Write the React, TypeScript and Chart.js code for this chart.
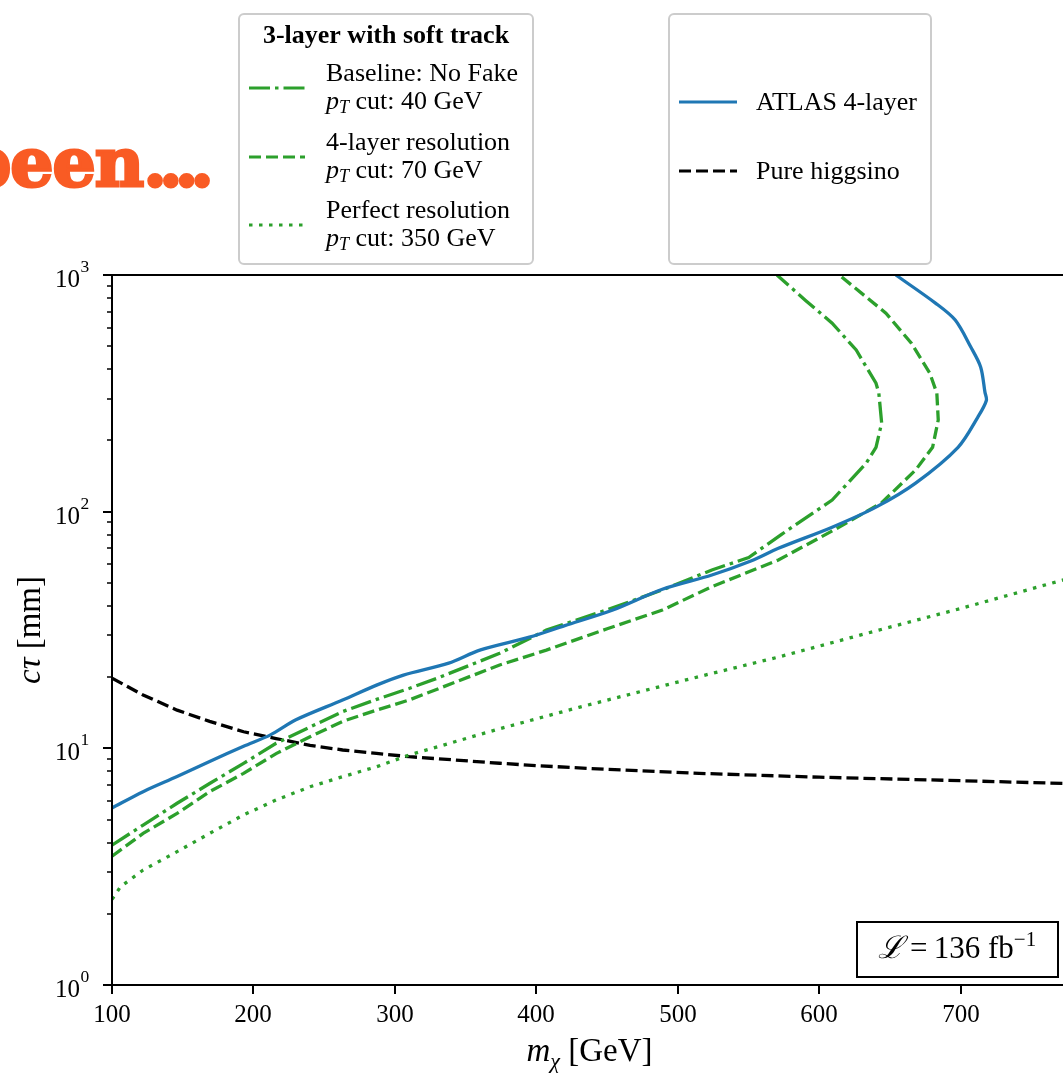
import React, { useEffect, useRef } from "react";
import { Chart, registerables } from "chart.js";

Chart.register(...registerables);

// ATLAS 4-layer exclusion contour (m_chi in GeV, c*tau in mm)
const atlasMass = [100, 122, 146, 169, 193, 212, 230, 263, 287, 306, 338, 360, 395, 420, 454, 489, 524, 552, 571, 609, 640, 668, 698, 712, 718, 717, 714, 707, 696, 682, 654];
const atlasCtau = [5.6, 6.56, 7.6, 8.8, 10.2, 11.4, 13.2, 16.0, 18.5, 20.4, 22.9, 26, 29.5, 33, 38.4, 47, 54, 62, 70, 86, 104.5, 132, 187, 251, 295, 320, 408, 496, 645, 761, 1000];

// 3-layer with soft track: baseline, no fake, pT cut 40 GeV
const baselineMass = [100, 122, 146, 169, 193, 216, 240, 263, 287, 310, 330, 374, 407, 450, 489, 524, 550, 573, 609, 633, 640, 644, 642, 640, 626, 609, 590, 570];
const baselineCtau = [3.9, 4.74, 5.86, 7.1, 8.64, 10.5, 12.3, 14.3, 16.1, 17.9, 19.8, 25.2, 31.6, 38.5, 46.7, 56.7, 64, 80, 112, 160, 187, 237, 317, 349, 482, 626, 783, 1000];

// 3-layer with soft track: 4-layer resolution, pT cut 70 GeV
const fourLayerResMass = [100, 122, 146, 169, 193, 216, 240, 263, 287, 310, 374, 407, 450, 489, 524, 571, 614, 644, 668, 680, 684, 683, 678, 665, 647, 614];
const fourLayerResCtau = [3.5, 4.37, 5.31, 6.56, 7.84, 9.5, 11.2, 13.0, 14.5, 16.0, 22.5, 26, 32, 38.4, 48.2, 62.5, 86, 109, 150, 187, 244, 317, 385, 515, 690, 1000];

// 3-layer with soft track: perfect resolution, pT cut 350 GeV
const perfectResMass = [100, 106, 122, 146, 169, 193, 216, 240, 263, 287, 310, 374, 430, 515, 571, 642, 700, 775];
const perfectResCtau = [2.3, 2.6, 3.06, 3.66, 4.37, 5.23, 6.05, 6.88, 7.59, 8.36, 9.37, 12.1, 14.9, 20.1, 24.3, 31.6, 39, 52];

// Pure higgsino lifetime
const higgsinoMass = [100, 122, 146, 169, 193, 216, 240, 263, 287, 310, 374, 400, 450, 515, 600, 700, 775];
const higgsinoCtau = [19.8, 16.8, 14.5, 13.0, 11.75, 11.0, 10.3, 9.84, 9.52, 9.22, 8.65, 8.45, 8.15, 7.84, 7.55, 7.3, 7.1];

const xTicks = [100, 200, 300, 400, 500, 600, 700];
const yDecades = [0, 1, 2, 3];

const BLUE = "#1f77b4";
const GREEN = "#2ca02c";
const SERIF = '"Liberation Serif", "Times New Roman", serif';

const CANVAS_W = 1090;
const CANVAS_H = 1073;
const PLOT_LEFT = 112;
const PLOT_RIGHT = 1067;
const PLOT_TOP = 275;
const PLOT_BOTTOM = 985;

const DASH = [12, 5];
const DASH_DOT = [21, 5, 3.5, 5];
const DOT = [3.5, 6.5];

const pairs = (xs: number[], ys: number[]) => xs.map((x, i) => ({ x, y: ys[i] }));

type Run = { t: string; f: string; dy?: number };

function runsWidth(ctx: CanvasRenderingContext2D, runs: Run[]) {
  let w = 0;
  for (const r of runs) {
    ctx.font = r.f;
    w += ctx.measureText(r.t).width;
  }
  return w;
}

function drawRuns(ctx: CanvasRenderingContext2D, runs: Run[], x: number, y: number, align: "left" | "center" | "right") {
  const w = runsWidth(ctx, runs);
  let cx = align === "left" ? x : align === "center" ? x - w / 2 : x - w;
  ctx.textAlign = "left";
  ctx.textBaseline = "alphabetic";
  for (const r of runs) {
    ctx.font = r.f;
    ctx.fillText(r.t, cx, y + (r.dy || 0));
    cx += ctx.measureText(r.t).width;
  }
}

function sampleLine(ctx: CanvasRenderingContext2D, x0: number, x1: number, y: number, color: string, dash: number[]) {
  ctx.save();
  ctx.strokeStyle = color;
  ctx.lineWidth = 3.2;
  ctx.lineCap = "butt";
  ctx.setLineDash(dash);
  ctx.beginPath();
  ctx.moveTo(x0, y);
  ctx.lineTo(x1, y);
  ctx.stroke();
  ctx.restore();
}

function legendFrame(ctx: CanvasRenderingContext2D, x: number, y: number, w: number, h: number) {
  ctx.save();
  ctx.fillStyle = "rgba(255,255,255,0.8)";
  ctx.strokeStyle = "#cccccc";
  ctx.lineWidth = 2;
  ctx.beginPath();
  ctx.roundRect(x, y, w, h, 5);
  ctx.fill();
  ctx.stroke();
  ctx.restore();
}

const f = (size: number, style = "") => `${style} ${size}px ${SERIF}`.trim();

// Axes frame, tick marks, tick labels, axis titles, legends and luminosity box
const decorations = {
  id: "decorations",
  afterDraw(chart: Chart) {
    const ctx = chart.ctx;
    const xs = chart.scales.x;
    const ys = chart.scales.y;
    const { left, right, top, bottom } = chart.chartArea;
    ctx.save();
    ctx.fillStyle = "#000";
    ctx.strokeStyle = "#000";

    // frame
    ctx.lineWidth = 2;
    ctx.strokeRect(left, top, right - left, bottom - top);

    // x ticks
    for (const v of xTicks) {
      const px = Math.round(xs.getPixelForValue(v));
      ctx.lineWidth = 2;
      ctx.beginPath();
      ctx.moveTo(px, bottom);
      ctx.lineTo(px, bottom + 9);
      ctx.stroke();
      ctx.font = f(25);
      ctx.textAlign = "center";
      ctx.textBaseline = "alphabetic";
      ctx.fillText(String(v), px, 1022);
    }

    // y ticks (log decades with minor ticks)
    for (const d of yDecades) {
      const py = Math.round(ys.getPixelForValue(Math.pow(10, d)));
      ctx.lineWidth = 2;
      ctx.beginPath();
      ctx.moveTo(left - 9, py);
      ctx.lineTo(left, py);
      ctx.stroke();
      ctx.font = f(25);
      ctx.textAlign = "right";
      ctx.fillText("10", 80, py + 12);
      ctx.font = f(17.5);
      ctx.textAlign = "left";
      ctx.fillText(String(d), 80.5, py - 3);
      if (d < 3) {
        for (let k = 2; k <= 9; k++) {
          const my = Math.round(ys.getPixelForValue(k * Math.pow(10, d)));
          ctx.lineWidth = 1.5;
          ctx.beginPath();
          ctx.moveTo(left - 5, my);
          ctx.lineTo(left, my);
          ctx.stroke();
        }
      }
    }

    // axis titles
    drawRuns(
      ctx,
      [
        { t: "m", f: f(33, "italic") },
        { t: "χ", f: f(22, "italic"), dy: 7 },
        { t: " [GeV]", f: f(33) },
      ],
      (left + right) / 2,
      1061,
      "center"
    );
    ctx.save();
    ctx.translate(40, (top + bottom) / 2);
    ctx.rotate(-Math.PI / 2);
    drawRuns(
      ctx,
      [
        { t: "cτ", f: f(33, "italic") },
        { t: " [mm]", f: f(33) },
      ],
      0,
      0,
      "center"
    );
    ctx.restore();

    // luminosity box
    ctx.fillStyle = "#fff";
    ctx.fillRect(857, 922, 201, 55);
    ctx.lineWidth = 2;
    ctx.strokeRect(857, 922, 201, 55);
    ctx.fillStyle = "#000";
    drawRuns(
      ctx,
      [
        { t: "ℒ", f: f(31, "italic") },
        { t: "\u2009=\u2009", f: f(31) },
        { t: "136 fb", f: f(31) },
        { t: "−1", f: f(21), dy: -12 },
      ],
      957,
      958,
      "center"
    );

    // legend: 3-layer with soft track
    legendFrame(ctx, 239, 14, 294, 250);
    ctx.fillStyle = "#000";
    ctx.font = f(26, "bold");
    ctx.textAlign = "center";
    ctx.fillText("3-layer with soft track", 386, 43);
    const entries = [
      { label: "Baseline: No Fake", cut: " cut: 40 GeV", dash: DASH_DOT, y: 81 },
      { label: "4-layer resolution", cut: " cut: 70 GeV", dash: DASH, y: 150 },
      { label: "Perfect resolution", cut: " cut: 350 GeV", dash: DOT, y: 218 },
    ];
    for (const e of entries) {
      sampleLine(ctx, 249, 305, e.y + 7, GREEN, e.dash);
      ctx.fillStyle = "#000";
      drawRuns(ctx, [{ t: e.label, f: f(26) }], 326, e.y, "left");
      drawRuns(
        ctx,
        [
          { t: "p", f: f(26, "italic") },
          { t: "T", f: f(18, "italic"), dy: 4 },
          { t: e.cut, f: f(26) },
        ],
        326,
        e.y + 28,
        "left"
      );
    }

    // legend: reference curves
    legendFrame(ctx, 669, 14, 262, 250);
    sampleLine(ctx, 679, 737, 102, BLUE, []);
    sampleLine(ctx, 679, 737, 171, "#000", DASH);
    ctx.fillStyle = "#000";
    drawRuns(ctx, [{ t: "ATLAS 4-layer", f: f(26) }], 756, 110, "left");
    drawRuns(ctx, [{ t: "Pure higgsino", f: f(26) }], 756, 179, "left");

    ctx.restore();
  },
};

export default function App() {
  const canvasRef = useRef<HTMLCanvasElement | null>(null);

  useEffect(() => {
    document.body.style.margin = "0";
    const canvas = canvasRef.current;
    if (!canvas) return;
    const line = (label: string, xs: number[], ys: number[], color: string, dash: number[], tension = 0) => ({
      label,
      data: pairs(xs, ys),
      borderColor: color,
      backgroundColor: color,
      borderWidth: 3.3,
      borderDash: dash,
      borderCapStyle: "butt" as const,
      pointRadius: 0,
      tension,
      fill: false,
    });
    const chart = new Chart(canvas, {
      type: "line",
      data: {
        datasets: [
          line("ATLAS 4-layer", atlasMass, atlasCtau, BLUE, [], 0.3),
          line("Baseline: No Fake", baselineMass, baselineCtau, GREEN, DASH_DOT),
          line("4-layer resolution", fourLayerResMass, fourLayerResCtau, GREEN, DASH),
          line("Perfect resolution", perfectResMass, perfectResCtau, GREEN, DOT),
          line("Pure higgsino", higgsinoMass, higgsinoCtau, "#000", DASH),
        ],
      },
      options: {
        responsive: false,
        animation: false,
        events: [],
        layout: { padding: { left: 0, top: PLOT_TOP, right: CANVAS_W - PLOT_RIGHT, bottom: 0 } },
        plugins: { legend: { display: false }, tooltip: { enabled: false }, title: { display: false } },
        scales: {
          x: {
            type: "linear",
            min: 100,
            max: 775,
            grid: { display: false },
            border: { display: false },
            ticks: { display: false },
            afterFit: (s: any) => {
              s.height = CANVAS_H - PLOT_BOTTOM;
            },
          },
          y: {
            type: "logarithmic",
            min: 1,
            max: 1000,
            grid: { display: false },
            border: { display: false },
            ticks: { display: false },
            afterFit: (s: any) => {
              s.width = PLOT_LEFT;
            },
          },
        },
      },
      plugins: [decorations],
    });
    return () => chart.destroy();
  }, []);

  return (
    <div style={{ position: "relative", width: 1063, height: 1073, overflow: "hidden", background: "#fff" }}>
      <canvas
        ref={canvasRef}
        width={CANVAS_W}
        height={CANVAS_H}
        style={{ position: "absolute", left: 0, top: 0, width: CANVAS_W, height: CANVAS_H }}
      />
      <div
        style={{
          position: "absolute",
          right: 1063 - 206,
          top: 128,
          fontFamily: '"DejaVu Serif", serif',
          fontWeight: 700,
          fontSize: 68,
          lineHeight: "68px",
          color: "#F95B24",
          WebkitTextStroke: "3px #F95B24",
          whiteSpace: "nowrap",
          letterSpacing: "-1px",
        }}
      >
        been<span style={{ letterSpacing: "-8px" }}>....</span>
      </div>
    </div>
  );
}
